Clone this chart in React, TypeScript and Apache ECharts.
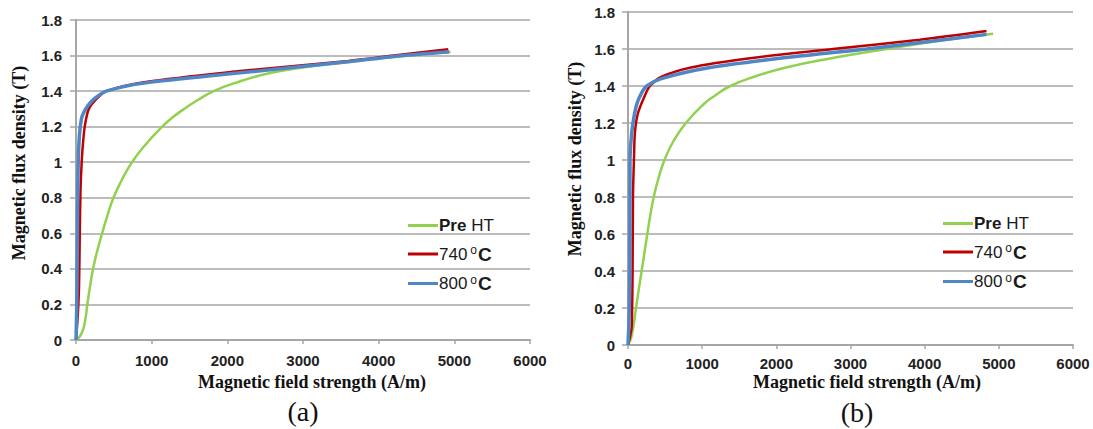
import React, { useEffect, useRef } from "react";
import * as echarts from "echarts";

// ---- data (H in A/m, B in T) ----
const xTicksMax = 6000;
const yTicksMax = 1.8;
const seriesNames = ["Pre HT", "740 oC", "800 oC"];

const aPreHT = [[0,0],[50,0.02],[95,0.06],[125,0.12],[150,0.2],[185,0.3],[225,0.4],[280,0.5],[345,0.6],[415,0.7],[495,0.8],[605,0.9],[740,1.0],[920,1.1],[1140,1.2],[1270,1.25],[1430,1.3],[1610,1.35],[1820,1.4],[2130,1.45],[2550,1.5],[2950,1.53],[3500,1.56],[4150,1.59],[4950,1.62]];
const a740 = [[0,0],[25,0.15],[40,0.3],[50,0.6],[60,0.85],[75,1.0],[95,1.12],[119,1.21],[170,1.3],[280,1.36],[400,1.4],[900,1.45],[2100,1.51],[3600,1.57],[4200,1.6],[4920,1.635]];
const a800 = [[0,0],[10,0.2],[17,0.5],[22,0.8],[30,1.0],[45,1.15],[70,1.24],[97,1.275],[160,1.32],[250,1.36],[400,1.4],[900,1.445],[2100,1.5],[3600,1.565],[4200,1.595],[4930,1.621]];

const bPreHT = [[0,0],[50,0.05],[108,0.2],[145,0.3],[184,0.4],[222,0.5],[260,0.6],[300,0.7],[347,0.8],[410,0.9],[492,1.0],[610,1.1],[780,1.2],[1015,1.3],[1180,1.35],[1380,1.4],[1700,1.45],[2130,1.5],[2740,1.55],[3486,1.6],[4295,1.65],[4923,1.683]];
const b740 = [[0,0],[30,0.05],[50,0.1],[62,0.4],[67,0.8],[80,1.0],[94,1.15],[135,1.254],[229,1.35],[296,1.4],[454,1.45],[850,1.5],[1644,1.55],[2763,1.6],[3935,1.65],[4834,1.697]];
const b800 = [[0,0],[18,0.2],[25,0.6],[27,1.0],[40,1.1],[67,1.2],[117,1.3],[180,1.36],[252,1.4],[450,1.44],[1105,1.5],[2049,1.55],[3217,1.6],[4000,1.638],[4834,1.679]];

const colors = ["#92d050", "#c00000", "#4f86c6"];
const widths = [2.5, 2.5, 3.5];
const smoothness = [0.5, 0.3, 0.3];

const gridLine = "#a6a6a6";
const labelColor = "#222";

function App() {
  const ref = useRef<HTMLDivElement>(null);
  useEffect(() => {
    document.body.style.margin = "0";
    if (!ref.current) return;
    const chart = echarts.init(ref.current, null, { renderer: "svg" });

    const grids = [
      { left: 76, top: 20, width: 454, height: 320 },
      { left: 628, top: 12, width: 445, height: 333 },
    ];
    const mkX = (i: number, margin: number) => ({
      type: "value",
      gridIndex: i,
      min: 0,
      max: xTicksMax,
      interval: 1000,
      axisLine: { show: true, lineStyle: { color: gridLine, width: 2 } },
      axisTick: { show: true, length: 4, lineStyle: { color: gridLine, width: 1.5 } },
      splitLine: { show: false },
      axisLabel: {
        margin,
        fontFamily: "Liberation Sans",
        fontWeight: "bold",
        fontSize: 15,
        color: labelColor,
        formatter: (v: number) => String(v),
      },
    });
    const mkY = (i: number, margin: number) => ({
      type: "value",
      gridIndex: i,
      min: 0,
      max: yTicksMax,
      interval: 0.2,
      axisLine: { show: true, lineStyle: { color: gridLine, width: 2 } },
      axisTick: { show: true, length: 6, lineStyle: { color: gridLine, width: 1.5 } },
      splitLine: { show: true, lineStyle: { color: gridLine, width: 1.5 } },
      axisLabel: {
        margin,
        fontFamily: "Liberation Sans",
        fontWeight: "bold",
        fontSize: 15,
        color: labelColor,
        formatter: (v: number) => String(Math.round(v * 10) / 10),
      },
    });

    const datasets = [
      [aPreHT, a740, a800],
      [bPreHT, b740, b800],
    ];
    const series: any[] = [];
    datasets.forEach((set, gi) => {
      set.forEach((d, si) => {
        series.push({
          type: "line",
          name: seriesNames[si],
          xAxisIndex: gi,
          yAxisIndex: gi,
          data: d,
          smooth: smoothness[si],
          symbol: "none",
          lineStyle: { color: colors[si], width: widths[si] },
          itemStyle: { color: colors[si] },
          z: 2 + si,
        });
      });
    });

    const legendFormatter = (name: string) => {
      if (name === "Pre HT") return "{p|Pre }{h|HT}";
      const num = name.split(" ")[0];
      return "{n|" + num + "}{s|o}{c|C}";
    };
    const rich = {
      p: { fontFamily: "Liberation Sans", fontSize: 17, fontWeight: "bold", color: "#1a1a1a", lineHeight: 20 },
      h: { fontFamily: "Liberation Sans", fontSize: 17, color: "#1a1a1a", lineHeight: 20 },
      n: { fontFamily: "Liberation Sans", fontSize: 17, color: "#1a1a1a", lineHeight: 20 },
      s: { fontFamily: "Liberation Sans", fontSize: 12, color: "#1a1a1a", verticalAlign: "top", lineHeight: 14, padding: [0, 1, 0, 3] },
      c: { fontFamily: "Liberation Sans", fontSize: 19, fontWeight: "bold", color: "#1a1a1a", lineHeight: 20 },
    };
    const mkLegend = (left: number, top: number) => ({
      orient: "vertical",
      left,
      top,
      data: seriesNames.map((n, i) => ({ name: n, itemStyle: { color: colors[i] } })),
      icon: "rect",
      itemWidth: 30,
      itemHeight: 3,
      itemGap: 10,
      selectedMode: false,
      formatter: legendFormatter,
      textStyle: { rich, padding: [0, 0, 0, -4] },
    });

    const serifTitle = (x: number, y: number, text: string, rot: number) => ({
      type: "text",
      x,
      y,
      rotation: rot,
      style: {
        text,
        fontFamily: "Liberation Serif",
        fontWeight: "bold",
        fontSize: 18,
        fill: "#111",
        align: "center",
        verticalAlign: "middle",
      },
    });
    const panelLabel = (x: number, y: number, text: string) => ({
      type: "text",
      x,
      y,
      style: {
        text,
        fontFamily: "Liberation Serif",
        fontSize: 28,
        fill: "#111",
        align: "center",
        verticalAlign: "middle",
      },
    });

    chart.setOption({
      animation: false,
      backgroundColor: "#fff",
      grid: grids,
      xAxis: [mkX(0, 13), mkX(1, 11)],
      yAxis: [mkY(0, 14), mkY(1, 13)],
      legend: [mkLegend(403, 212), mkLegend(938, 210)],
      series,
      graphic: [
        serifTitle(19, 163, "Magnetic flux density (T)", Math.PI / 2),
        serifTitle(575, 159, "Magnetic flux density (T)", Math.PI / 2),
        serifTitle(312, 382, "Magnetic field strength (A/m)", 0),
        serifTitle(867, 382, "Magnetic field strength (A/m)", 0),
        panelLabel(303, 411, "(a)"),
        panelLabel(857, 412, "(b)"),
      ],
    });
    return () => chart.dispose();
  }, []);
  return <div ref={ref} style={{ width: 1093, height: 429 }} />;
}

export default App;
